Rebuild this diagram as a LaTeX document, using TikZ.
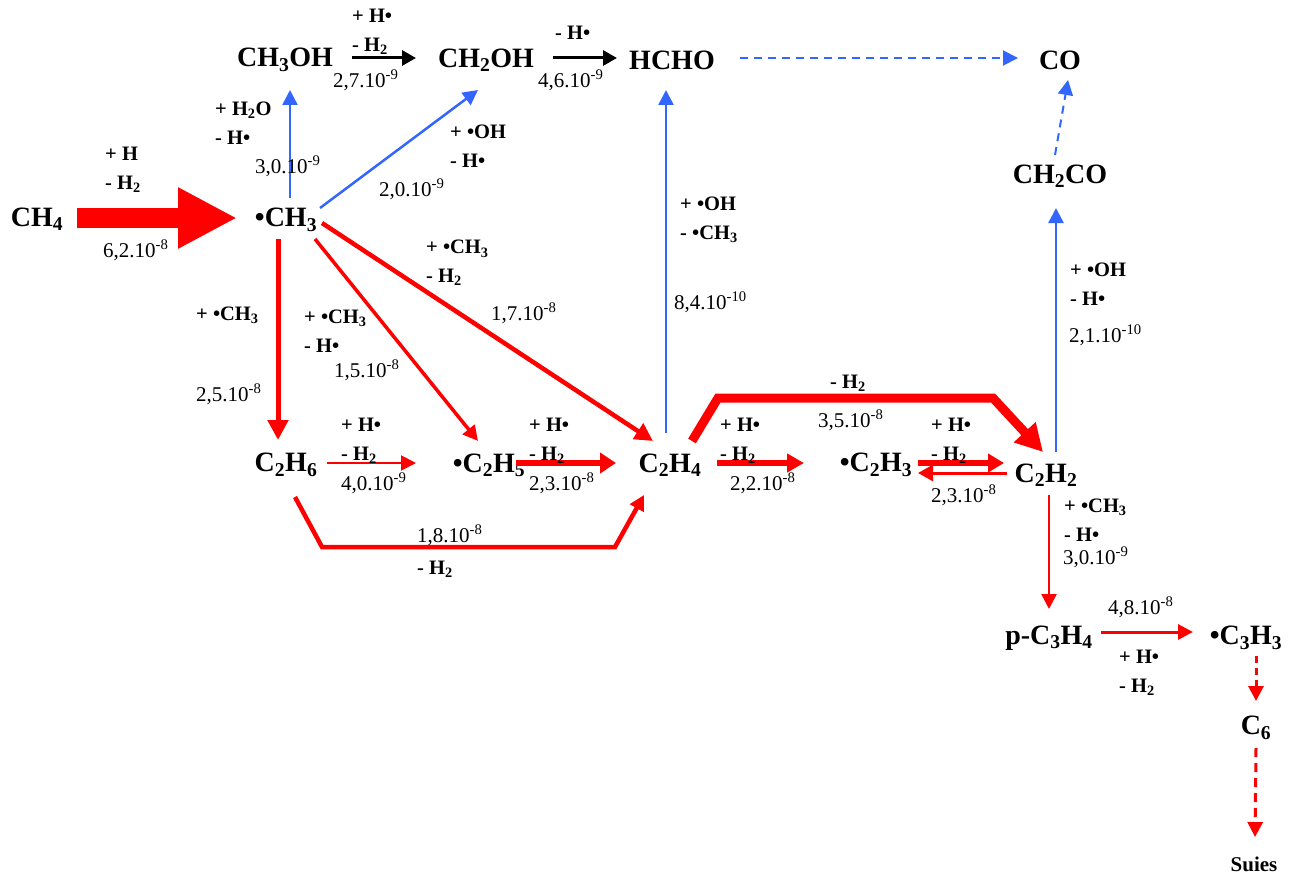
\documentclass[tikz,border=0pt]{standalone}
\usepackage{fontspec}
\setmainfont{Liberation Serif}
\usetikzlibrary{arrows.meta}
\definecolor{rblue}{HTML}{3366FF}
\definecolor{rred}{HTML}{FF0000}
\newcommand{\lo}[1]{\textsubscript{#1}}
\newcommand{\rt}[2]{#1.10\textsuperscript{#2}}
\tikzset{
  x=1pt,y=-1pt,
  species/.style={font=\fontsize{28}{30}\bfseries\selectfont,inner sep=0pt,anchor=center},
  soot/.style={font=\fontsize{21}{23}\bfseries\selectfont,inner sep=0pt,anchor=center},
  rxn/.style={font=\fontsize{20.5}{28.5}\bfseries\selectfont,inner sep=0pt,anchor=west,align=left},
  rate/.style={font=\fontsize{21}{24}\selectfont,inner sep=0pt,anchor=west},
  bl/.style={rblue,line width=2.5pt,-{Triangle[length=15pt,width=15pt]}},
  bk/.style={black,line width=3pt,-{Triangle[length=14pt,width=15pt]}},
  rd/.style={rred,line width=#1,line join=miter,-{Triangle[length=15pt,width=15pt]}},
  rd/.default=3pt
}
\begin{document}
\begin{tikzpicture}
\useasboundingbox (0,0) rectangle (1295,872);
% species
\node[species] (ch4) at (37,219) {CH\lo{4}};
\node[species] (ch3) at (286,220) {•CH\lo{3}};
\node[species] (ch3oh) at (285,60) {CH\lo{3}OH};
\node[species] (ch2oh) at (486,60) {CH\lo{2}OH};
\node[species] (hcho) at (672,60) {HCHO};
\node[species] (co) at (1060,60) {CO};
\node[species] (ch2co) at (1060,176) {CH\lo{2}CO};
\node[species] (c2h6) at (286,465) {C\lo{2}H\lo{6}};
\node[species] (c2h5) at (489,465) {•C\lo{2}H\lo{5}};
\node[species] (c2h4) at (670,465) {C\lo{2}H\lo{4}};
\node[species] (c2h3) at (876,465) {•C\lo{2}H\lo{3}};
\node[species] (c2h2) at (1046,475) {C\lo{2}H\lo{2}};
\node[species] (pc3h4) at (1049,638) {p-C\lo{3}H\lo{4}};
\node[species] (c3h3) at (1246,638) {•C\lo{3}H\lo{3}};
\node[species] (c6) at (1256,728) {C\lo{6}};
\node[soot] (suies) at (1254,864) {Suies};
% connectors (offsets from node centres, y axis pointing down)
\draw[rred,line width=20pt,-{Triangle[length=59pt,width=57pt]}] ([shift={(40,-1)}]ch4.center) -- ([shift={(-49,-2)}]ch3.center);
\draw[bl] ([shift={(4,-22)}]ch3.center) -- ([shift={(5,30)}]ch3oh.center);
\draw[bl] ([shift={(34,-12)}]ch3.center) -- ([shift={(-8,30)}]ch2oh.center);
\draw[bk] ([shift={(67,-2)}]ch3oh.center) -- ([shift={(-70,-2)}]ch2oh.center);
\draw[bk] ([shift={(67,-2)}]ch2oh.center) -- ([shift={(-55,-2)}]hcho.center);
\draw[bl,line width=2pt,dash pattern=on 8pt off 6pt] ([shift={(68,-2)}]hcho.center) -- ([shift={(-42,-2)}]co.center);
\draw[bl,line width=2pt,dash pattern=on 8pt off 6pt] ([shift={(-5,-21)}]ch2co.center) -- ([shift={(8,20)}]co.center);
\draw[bl] ([shift={(10,-23)}]c2h2.center) -- ([shift={(-4,32)}]ch2co.center);
\draw[bl] ([shift={(-4,-32)}]c2h4.center) -- ([shift={(-6,30)}]hcho.center);
\draw[rred,line width=5pt,-{Triangle[length=20pt,width=20pt]}] ([shift={(-8,19)}]ch3.center) -- ([shift={(-8,-25)}]c2h6.center);
\draw[rd=3.5pt] ([shift={(29,19)}]ch3.center) -- ([shift={(-11,-24)}]c2h5.center);
\draw[rred,line width=4.5pt,-{Triangle[length=18pt,width=18pt]}] ([shift={(36,3)}]ch3.center) -- ([shift={(-17,-24)}]c2h4.center);
\draw[rd=2pt] ([shift={(41,-2)}]c2h6.center) -- ([shift={(-73,-2)}]c2h5.center);
\draw[rred,line width=6pt,-{Triangle[length=16pt,width=20pt]}] ([shift={(27,-2)}]c2h5.center) -- ([shift={(-54,-2)}]c2h4.center);
\draw[rred,line width=6pt,-{Triangle[length=17pt,width=18pt]}] ([shift={(47,-2)}]c2h4.center) -- ([shift={(-72,-2)}]c2h3.center);
\draw[rred,line width=6pt,-{Triangle[length=16pt,width=18pt]}] ([shift={(42,-2)}]c2h3.center) -- ([shift={(-42,-12)}]c2h2.center);
\draw[rred,line width=3pt,-{Triangle[length=15pt,width=16pt]}] ([shift={(-39,-2)}]c2h2.center) -- ([shift={(42,8)}]c2h3.center);
\draw[rred,line width=9pt,-{Triangle[length=27pt,width=28pt]}] ([shift={(22,-24)}]c2h4.center) -- ([shift={(48,-67)}]c2h4.center) -- ([shift={(-53,-77)}]c2h2.center) -- ([shift={(-3,-23)}]c2h2.center);
\draw[rd=4.5pt] ([shift={(9,32)}]c2h6.center) -- ([shift={(36,82)}]c2h6.center) -- ([shift={(-55,82)}]c2h4.center) -- ([shift={(-26,30)}]c2h4.center);
\draw[rd=2.5pt] ([shift={(3,20)}]c2h2.center) -- ([shift={(0,-29)}]pc3h4.center);
\draw[rd=3pt] ([shift={(52,-6)}]pc3h4.center) -- ([shift={(-53,-6)}]c3h3.center);
\draw[rd=3pt,dash pattern=on 7pt off 5pt] ([shift={(10,18)}]c3h3.center) -- ([shift={(0,-27)}]c6.center);
\draw[rd=3pt,dash pattern=on 9pt off 6pt] ([shift={(0,20)}]c6.center) -- ([shift={(1,-27)}]suies.center);
% labels
\node[rxn] (l1) at (105,170) {+ H\\- H\lo{2}};
\node[rate] (r1) at (103,250) {\rt{6,2}{-8}};
\node[rxn] (l2) at (215,123) {+ H\lo{2}O\\- H•};
\node[rate] (r2) at (255,166) {\rt{3,0}{-9}};
\node[rxn] (l3) at (352,32) {+ H•\\- H\lo{2}};
\node[rate] (r3) at (333,80) {\rt{2,7}{-9}};
\node[rxn] (l4) at (555,33) {- H•};
\node[rate] (r4) at (538,80) {\rt{4,6}{-9}};
\node[rxn] (l5) at (450,146) {+ •OH\\- H•};
\node[rate] (r5) at (379,189) {\rt{2,0}{-9}};
\node[rxn] (l6) at (426,263) {+ •CH\lo{3}\\- H\lo{2}};
\node[rate] (r6) at (491,313) {\rt{1,7}{-8}};
\node[rxn] (l7) at (680,220) {+ •OH\\- •CH\lo{3}};
\node[rate] (r7) at (674,302) {\rt{8,4}{-10}};
\node[rxn] (l8) at (196,315) {+ •CH\lo{3}};
\node[rate] (r8) at (196,394) {\rt{2,5}{-8}};
\node[rxn] (l9) at (304,331) {+ •CH\lo{3}\\- H•};
\node[rate] (r9) at (334,370) {\rt{1,5}{-8}};
\node[rxn] (l10) at (341,441) {+ H•\\- H\lo{2}};
\node[rate] (r10) at (341,483) {\rt{4,0}{-9}};
\node[rxn] (l11) at (529,441) {+ H•\\- H\lo{2}};
\node[rate] (r11) at (529,483) {\rt{2,3}{-8}};
\node[rxn] (l12) at (720,441) {+ H•\\- H\lo{2}};
\node[rate] (r12) at (730,483) {\rt{2,2}{-8}};
\node[rxn] (l13) at (830,383) {- H\lo{2}};
\node[rate] (r13) at (818,420) {\rt{3,5}{-8}};
\node[rxn] (l14) at (931,441) {+ H•\\- H\lo{2}};
\node[rate] (r14) at (931,495) {\rt{2,3}{-8}};
\node[rate] (r15) at (417,535) {\rt{1,8}{-8}};
\node[rxn] (l15) at (417,569) {- H\lo{2}};
\node[rxn] (l16) at (1070,284) {+ •OH\\- H•};
\node[rate] (r16) at (1069,335) {\rt{2,1}{-10}};
\node[rxn] (l17) at (1064,520) {+ •CH\lo{3}\\- H•};
\node[rate] (r17) at (1063,557) {\rt{3,0}{-9}};
\node[rate] (r18) at (1108,607) {\rt{4,8}{-8}};
\node[rxn] (l18) at (1119,673) {+ H•\\- H\lo{2}};
\end{tikzpicture}
\end{document}
